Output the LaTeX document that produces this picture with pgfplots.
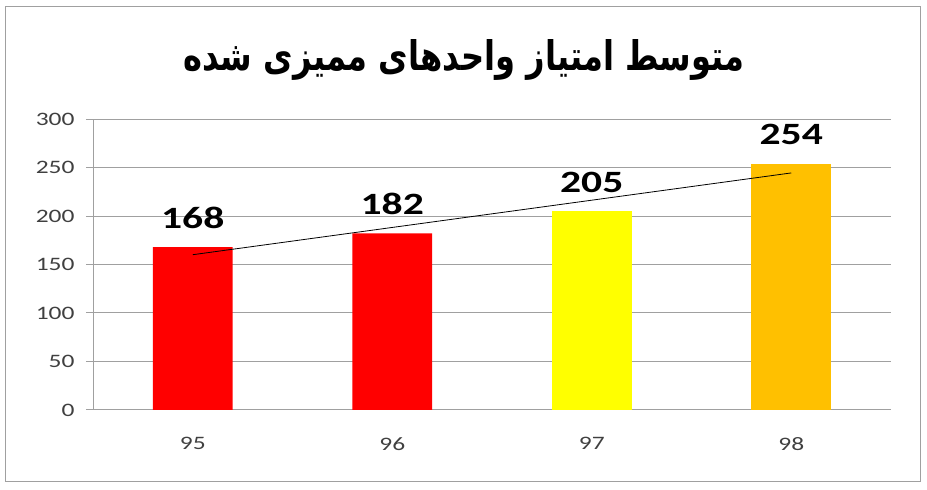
\documentclass[border=0pt]{standalone}
\usepackage{pgfplots}
\pgfplotsset{compat=1.18}
\usepackage{fontspec}
\usepackage{graphicx}
\setmainfont{Carlito}
\newfontfamily\arabicfont[Script=Arabic]{DejaVu Sans}
\TeXXeTstate=1
\definecolor{gridgray}{RGB}{160,160,160}
\definecolor{labgray}{RGB}{64,64,64}
\definecolor{barRed}{RGB}{255,0,0}
\definecolor{barYellow}{RGB}{255,255,0}
\definecolor{barOrange}{RGB}{255,192,0}
% stretched glyphs, as in the reference
\newcommand\sx[1]{\scalebox{1.34}[1]{#1}}
\begin{document}
\begin{tikzpicture}[x=1pt,y=1pt]
\path[use as bounding box] (0,0) rectangle (927,490);
\draw[gridgray, line width=1pt] (5,8) rectangle (920,483);

% title
\node[font=\arabicfont\bfseries\fontsize{34}{40}\selectfont] at (464,430)
  {\scalebox{0.945}[1.2]{\beginR متوسط امتیاز واحدهای ممیزی شده\endR}};

\begin{axis}[
  at={(93pt,80pt)}, anchor=south west,
  width=798pt, height=291pt, scale only axis,
  xmin=-0.5, xmax=3.5,
  ymin=0, ymax=300,
  axis lines=left,
  axis line style={-, gridgray, line width=1pt},
  ytick={0,50,...,300},
  yticklabels={\sx{0},\sx{50},\sx{100},\sx{150},\sx{200},\sx{250},\sx{300}},
  ymajorgrids,
  grid style={gridgray, line width=1pt},
  y tick style={gridgray, line width=1pt},
  tick align=outside,
  major tick length=7pt,
  xtick={0,1,2,3},
  xticklabels={\sx{95},\sx{96},\sx{97},\sx{98}},
  x tick style={draw=none},
  extra x ticks={-0.5,0.5,1.5,2.5,3.5},
  extra x tick labels={},
  extra x tick style={grid=none, tick style={draw=gridgray, line width=1pt}},
  ticklabel style={font=\fontsize{19}{19}\selectfont, text=labgray},
  yticklabel style={xshift=-8pt},
  xticklabel style={yshift=-17pt},
  clip=false,
  bar width=0.4,
  nodes near coords={\sx{\pgfmathprintnumber[assume math mode=true]{\pgfplotspointmeta}}},
  every node near coord/.style={anchor=base, yshift=19pt,
    font=\bfseries\fontsize{31}{31}\selectfont, text=black},
]
\addplot[ybar, bar shift=0pt, fill=barRed, draw=none] coordinates {(0,168) (1,182)};
\addplot[ybar, bar shift=0pt, fill=barYellow, draw=none] coordinates {(2,205)};
\addplot[ybar, bar shift=0pt, fill=barOrange, draw=none] coordinates {(3,254)};
% linear trend line
\addplot[black, line width=0.8pt, no marks, nodes near coords={}] coordinates {(0,160.1) (3,244.4)};
\end{axis}
\end{tikzpicture}
\end{document}
